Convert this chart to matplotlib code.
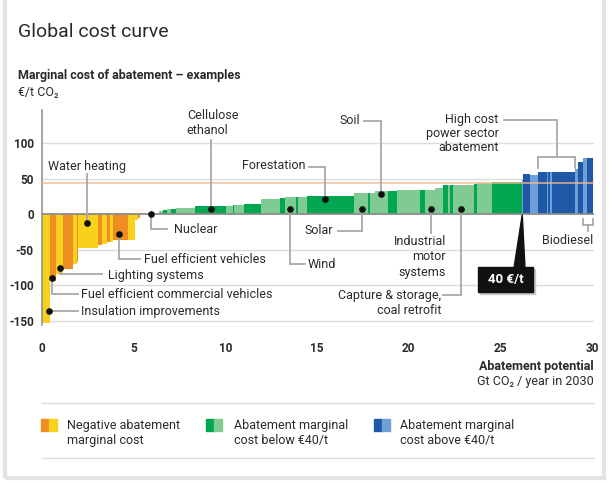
import matplotlib.pyplot as plt
from matplotlib.patches import Rectangle, Polygon

plt.rcParams['font.family'] = ['Roboto', 'DejaVu Sans']
plt.rcParams['axes.unicode_minus'] = False

# abatement measures: potential range (Gt CO2/yr) and marginal cost (EUR/t)
pot_from = [0.00, 0.45, 0.75, 1.16, 1.71, 1.89, 1.98, 3.07, 3.25, 3.52, 3.70, 3.89, 4.71, 5.07, 5.22, 5.32,
            6.40, 6.62, 6.80, 7.05, 7.31, 8.35, 10.04, 10.40, 10.50, 11.00, 11.93, 12.98, 13.25, 13.85, 13.95,
            14.47, 17.00, 17.80, 17.90, 18.17, 18.90, 19.38, 20.62, 20.90, 21.44, 21.89, 22.16, 22.25, 22.40,
            23.57, 23.71, 24.53,
            26.17, 26.26, 26.62, 27.08, 27.53, 27.62, 27.70, 27.80, 29.08, 29.25, 29.53, 29.71]
pot_to = [0.45, 0.75, 1.16, 1.71, 1.89, 1.98, 3.07, 3.25, 3.52, 3.70, 3.89, 4.71, 5.07, 5.22, 5.32, 5.42,
          6.62, 6.80, 7.05, 7.31, 8.35, 10.04, 10.40, 10.50, 11.00, 11.93, 12.98, 13.25, 13.85, 13.95, 14.47,
          17.00, 17.80, 17.90, 18.17, 18.90, 19.38, 20.62, 20.90, 21.44, 21.89, 22.16, 22.25, 22.40, 23.57,
          23.71, 24.53, 26.17,
          26.26, 26.62, 27.08, 27.53, 27.62, 27.70, 27.80, 29.08, 29.25, 29.53, 29.71, 30.04]
cost = [-153, -95, -84, -78, -71, -68, -48, -44, -42, -40, -39, -37, -37, -9, -6, -2,
        4, 5, 6.5, 7, 9, 11, 12, 12.5, 12.5, 13.5, 20.5, 22, 24, 24, 24.5,
        26, 29, 29, 30, 32.5, 32.5, 34, 34, 34, 36, 41, 41, 41, 41,
        43, 44, 44.5,
        48, 56, 55, 59.5, 59.5, 59.5, 59.5, 59.5, 63.5, 74, 79, 79]
shade = list("yoyoyoyoyoyoyyoy"
             "lglglglglglglglg"
             "lgllglgllglglglg"
             "cbcbcbcbcbcb")

threshold = 44

# labelled measures: (text, dot x, dot y)
callouts = {
    'Water heating': (2.44, -12),
    'Cellulose\nethanol': (9.2, 7),
    'Forestation': (15.44, 20.7),
    'Soil': (18.5, 27.7),
    'Nuclear': (5.95, 0),
    'Fuel efficient vehicles': (4.22, -28),
    'Lighting systems': (0.98, -75.6),
    'Fuel efficient commercial vehicles': (0.56, -90.5),
    'Insulation improvements': (0.38, -137),
    'Wind': (13.53, 6.6),
    'Solar': (17.44, 6.6),
    'Industrial\nmotor\nsystems': (21.22, 6.6),
    'Capture & storage,\ncoal retrofit': (22.84, 6.6),
}

colors = {'y': '#F8D11C', 'o': '#EE8E22', 'g': '#00A650', 'l': '#80CA93', 'b': '#1F58A6', 'c': '#6E9FD7'}
GRAY = '#A9A9A9'
TXT = '#2A2A2A'

fig = plt.figure(figsize=(6.12, 4.83), dpi=100)
ax = fig.add_axes([42 / 612, 157.5 / 483, 30.1 * 18.33 / 612, 215.1 / 483])

for y in [100, 50, -50, -100, -150]:
    ax.axhline(y, color='#DCDCDC', lw=1, zorder=0)

widths = [b - a for a, b in zip(pot_from, pot_to)]
ax.bar(pot_from, cost, width=widths, align='edge', color=[colors[s] for s in shade], linewidth=0, zorder=2)
ax.axhline(0, color='#8C8C8C', lw=1.3, zorder=3)
ax.axhline(threshold, color='#F3B98C', lw=1.2, alpha=0.85, zorder=4)

ax.set_xlim(0, 30.1)
ax.set_ylim(-157, 146)
for s in ['top', 'right', 'bottom']:
    ax.spines[s].set_visible(False)
ax.spines['left'].set_color('#8C8C8C')
ax.spines['left'].set_linewidth(1.1)
ax.set_xticks([0, 5, 10, 15, 20, 25, 30])
ax.set_yticks([100, 50, 0, -50, -100, -150])
ax.tick_params(length=0, labelsize=8.5, labelcolor=TXT)
ax.tick_params(axis='x', pad=12)
ax.tick_params(axis='y', pad=6)
for lab in ax.get_xticklabels() + ax.get_yticklabels():
    lab.set_fontweight('bold')


def leader(pts):
    xs, ys = zip(*pts)
    ax.plot(xs, ys, color=GRAY, lw=1.3, zorder=5, clip_on=False, solid_joinstyle='miter')


kw = dict(fontsize=9, color=TXT, va='center', zorder=6, clip_on=False)

# leader paths and text spots for each callout
layout = {
    'Water heating': ([(2.44, 57)], (0.35, 67.5), 'left'),
    'Cellulose\nethanol': ([(9.2, 104)], (7.9, 128), 'left'),
    'Forestation': ([(15.44, 66), (14.57, 66)], (14.35, 68), 'right'),
    'Soil': ([(18.5, 131.4), (17.57, 131.4)], (17.35, 132), 'right'),
    'Nuclear': ([(5.95, -21.5), (6.8, -21.5)], (7.2, -21.5), 'left'),
    'Fuel efficient vehicles': ([(4.22, -63.4), (5.35, -63.4)], (5.56, -63.4), 'left'),
    'Lighting systems': ([(0.98, -85), (3.26, -85)], (3.6, -86), 'left'),
    'Fuel efficient commercial vehicles': ([(0.56, -113), (1.98, -113)], (2.13, -113.5), 'left'),
    'Insulation improvements': ([(1.98, -137)], (2.13, -137), 'left'),
    'Wind': ([(13.53, -70.4), (14.35, -70.4)], (14.51, -70.4), 'left'),
    'Solar': ([(17.44, -23.5), (16.17, -23.5)], (15.88, -23.5), 'right'),
    'Industrial\nmotor\nsystems': ([(21.22, -27)], (22.04, -60.5), 'right'),
    'Capture & storage,\ncoal retrofit': ([(22.84, -114), (21.9, -114)], (21.77, -125), 'right'),
}

for name, (dx, dy) in callouts.items():
    path, (tx, ty), ha = layout[name]
    leader([(dx, dy)] + path)
    ax.plot(dx, dy, 'o', color='#111111', ms=3.8, zorder=7, clip_on=False)
    ax.text(tx, ty, name, ha=ha, multialignment=ha, linespacing=1.25, **kw)

# high cost power sector bracket
leader([(25.2, 133), (28.08, 133), (28.08, 80.7)])
leader([(27.04, 64.8), (27.04, 80.7), (29.08, 80.7), (29.08, 64.8)])
ax.text(24.9, 113.5, 'High cost\npower sector\nabatement', ha='right', multialignment='right',
        linespacing=1.12, **kw)

# biodiesel bracket
leader([(29.5, -7), (29.5, -15.5), (30.08, -15.5), (30.08, -7)])
leader([(29.8, -15.5), (29.8, -24)])
ax.text(30.06, -37, 'Biodiesel', ha='right', **kw)

# 40 EUR/t marker
ax.add_patch(Rectangle((23.9, -112.5), 3.0, 34.4, color='#C8C8C8', zorder=7, clip_on=False))
ax.add_patch(Rectangle((23.8, -109.4), 3.0, 34.4, color='#111111', zorder=8, clip_on=False))
ax.add_patch(Polygon([(25.75, -76), (26.35, -76), (26.2, -1)], closed=True, color='#111111',
                     zorder=8, clip_on=False))
ax.text(25.3, -92.2, '40 €/t', color='white', fontsize=9.5, fontweight='bold', ha='center',
        va='center', zorder=9)

# titles
fig.text(18 / 612, 1 - 32 / 483, 'Global cost curve', fontsize=14, color=TXT, va='center')
fig.text(18 / 612, 1 - 75 / 483, 'Marginal cost of abatement – examples', fontsize=9,
         fontweight='bold', color=TXT, va='center')
fig.text(18 / 612, 1 - 92 / 483, '€/t CO₂', fontsize=9, color=TXT, va='center')
fig.text(594 / 612, 1 - 366.7 / 483, 'Abatement potential', fontsize=9, fontweight='bold',
         color=TXT, ha='right', va='center')
fig.text(594 / 612, 1 - 381.7 / 483, 'Gt CO₂ / year in 2030', fontsize=9, color=TXT,
         ha='right', va='center')

# legend
for py in [403, 458]:
    fig.add_artist(plt.Line2D([42 / 612, 594 / 612], [1 - py / 483] * 2, color='#DDDDDD', lw=1))
legend_items = [
    (41, 'o', 'y', 67, 'Negative abatement\nmarginal cost'),
    (206, 'g', 'l', 233.5, 'Abatement marginal\ncost below €40/t'),
    (374, 'b', 'c', 400, 'Abatement marginal\ncost above €40/t'),
]
for x0, c1, c2, tx, label in legend_items:
    fig.add_artist(Rectangle((x0 / 612, 52 / 483), 8 / 612, 11.7 / 483, color=colors[c1],
                             transform=fig.transFigure))
    fig.add_artist(Rectangle(((x0 + 8) / 612, 52 / 483), 8 / 612, 11.7 / 483, color=colors[c2],
                             transform=fig.transFigure))
    fig.text(tx / 612, 1 - 433 / 483, label, fontsize=9, color=TXT, va='center', linespacing=1.25)

# panel border
fig.add_artist(Rectangle((5 / 612, 5 / 483), 599 / 612, 1.2, fill=False, ec='#E3E3E3', lw=3,
                         transform=fig.transFigure))

fig.savefig('out.png', dpi=100)
